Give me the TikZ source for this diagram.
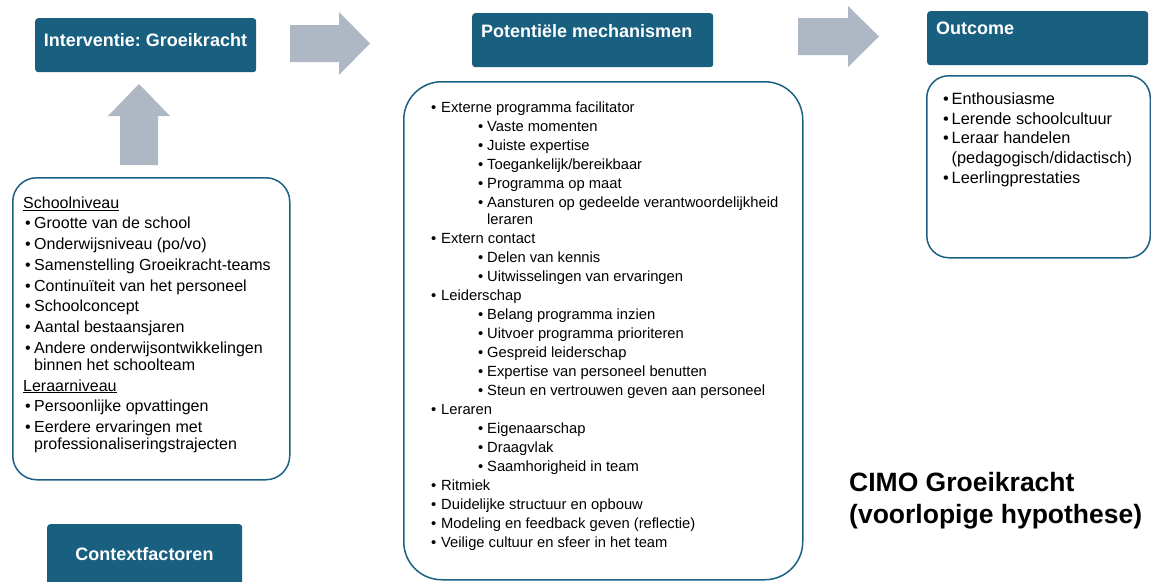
\documentclass[tikz,border=0pt]{standalone}
\usepackage{fontspec}
\setmainfont{Liberation Sans}
\frenchspacing
\definecolor{hdr}{RGB}{24,95,128}
\definecolor{brd}{RGB}{28,96,132}
\definecolor{arr}{RGB}{173,184,196}
\newcommand\bl{\makebox[10pt][l]{•}}
\newcommand\blo{\makebox[8.5pt][l]{•}}
\newcommand\blt{\hspace*{47pt}\makebox[9pt][l]{•}}
\tikzset{
  hdrbox/.style={draw=none, fill=hdr, rounded corners=3pt, anchor=north west, inner sep=0pt},
  hdrtxt/.style={text=white, font=\bfseries\fontsize{18}{21}\selectfont, inner sep=0pt},
  listbox/.style={draw=brd, line width=1.5pt, fill=white, anchor=north west, inner sep=0pt},
  listtxt/.style={anchor=north west, inner sep=0pt, align=left, text=black},
  blockarrow/.style={fill=arr, draw=none}
}
\begin{document}
\begin{tikzpicture}[x=1pt,y=-1pt]
\useasboundingbox (0,0) rectangle (1151,581);
\clip (0,0) rectangle (1151,581);
\fill[white] (0,0) rectangle (1151,581);

% header boxes
\node[hdrbox, minimum width=221pt, minimum height=54pt] (ibox) at (35,18) {};
\node[hdrtxt] (itxt) at (145.5,40) {Interventie: Groeikracht};

\node[hdrbox, minimum width=241pt, minimum height=54pt] (mbox) at (472,13) {};
\node[hdrtxt, anchor=west] (mtxt) at (481,31) {Potentiële mechanismen};

\node[hdrbox, minimum width=221pt, minimum height=54pt] (obox) at (927,11) {};
\node[hdrtxt, anchor=west] (otxt) at (936,28) {Outcome};

\node[hdrbox, minimum width=195pt, minimum height=62pt] (cbox) at (47,524) {};
\node[hdrtxt] (ctxt) at (144.5,554) {Contextfactoren};

% block arrows
\fill[blockarrow] (290,25) -- (339,25) -- (339,12) -- (370,43.5) -- (339,75) -- (339,62) -- (290,62) -- cycle;
\fill[blockarrow] (798,18) -- (848,18) -- (848,6) -- (879,36.5) -- (848,67) -- (848,55) -- (798,55) -- cycle;
\fill[blockarrow] (120,165) -- (120,116) -- (108,116) -- (139,84) -- (170,116) -- (158,116) -- (158,165) -- cycle;

% context list box
\node[listbox, rounded corners=24pt, minimum width=277pt, minimum height=302pt] (clist) at (12,177) {};
\node[listtxt, font=\fontsize{16}{17.3}\selectfont] (clisttxt) at (23,194) {%
\rule{0pt}{14pt}\underline{Schoolniveau}\\[3.4pt]
\hspace*{2pt}\makebox[9pt][l]{•}Grootte van de school\\[3.4pt]
\hspace*{2pt}\makebox[9pt][l]{•}Onderwijsniveau (po/vo)\\[3.4pt]
\hspace*{2pt}\makebox[9pt][l]{•}Samenstelling Groeikracht-teams\\[3.4pt]
\hspace*{2pt}\makebox[9pt][l]{•}Continuïteit van het personeel\\[3.4pt]
\hspace*{2pt}\makebox[9pt][l]{•}Schoolconcept\\[3.4pt]
\hspace*{2pt}\makebox[9pt][l]{•}Aantal bestaansjaren\\[3.4pt]
\hspace*{2pt}\makebox[9pt][l]{•}Andere onderwijsontwikkelingen\\
\hspace*{11pt}binnen het schoolteam\\[3.4pt]
\underline{Leraarniveau}\\[3.4pt]
\hspace*{2pt}\makebox[9pt][l]{•}Persoonlijke opvattingen\\[3.4pt]
\hspace*{2pt}\makebox[9pt][l]{•}Eerdere ervaringen met\\
\hspace*{11pt}professionaliseringstrajecten};

% mechanism list box
\node[listbox, rounded corners=38pt, minimum width=399pt, minimum height=498pt] (mlist) at (403,81) {};
\node[listtxt, font=\fontsize{14.75}{17}\selectfont] (mlisttxt) at (431,98) {%
\rule{0pt}{14pt}\bl Externe programma facilitator\\[2pt]
\blt Vaste momenten\\[2pt]
\blt Juiste expertise\\[2pt]
\blt Toegankelijk/bereikbaar\\[2pt]
\blt Programma op maat\\[2pt]
\blt Aansturen op gedeelde verantwoordelijkheid\\
\hspace*{56pt}leraren\\[2pt]
\bl Extern contact\\[2pt]
\blt Delen van kennis\\[2pt]
\blt Uitwisselingen van ervaringen\\[2pt]
\bl Leiderschap\\[2pt]
\blt Belang programma inzien\\[2pt]
\blt Uitvoer programma prioriteren\\[2pt]
\blt Gespreid leiderschap\\[2pt]
\blt Expertise van personeel benutten\\[2pt]
\blt Steun en vertrouwen geven aan personeel\\[2pt]
\bl Leraren\\[2pt]
\blt Eigenaarschap\\[2pt]
\blt Draagvlak\\[2pt]
\blt Saamhorigheid in team\\[2pt]
\bl Ritmiek\\[2pt]
\bl Duidelijke structuur en opbouw\\[2pt]
\bl Modeling en feedback geven (reflectie)\\[2pt]
\bl Veilige cultuur en sfeer in het team};

% outcome list box
\node[listbox, rounded corners=22pt, minimum width=223.5pt, minimum height=182pt] (olist) at (926,75) {};
\node[listtxt, font=\fontsize{16.3}{19.7}\selectfont] (olisttxt) at (943,90.2) {%
\rule{0pt}{14pt}\blo Enthousiasme\\
\blo Lerende schoolcultuur\\
\blo Leraar handelen\\
\hspace*{8.5pt}(pedagogisch/didactisch)\\
\blo Leerlingprestaties};

% title
\node[listtxt, font=\bfseries\fontsize{26.5}{32}\selectfont] (title) at (849,469) {%
\rule{0pt}{22pt}CIMO Groeikracht\\
(voorlopige hypothese)};
\end{tikzpicture}
\end{document}
